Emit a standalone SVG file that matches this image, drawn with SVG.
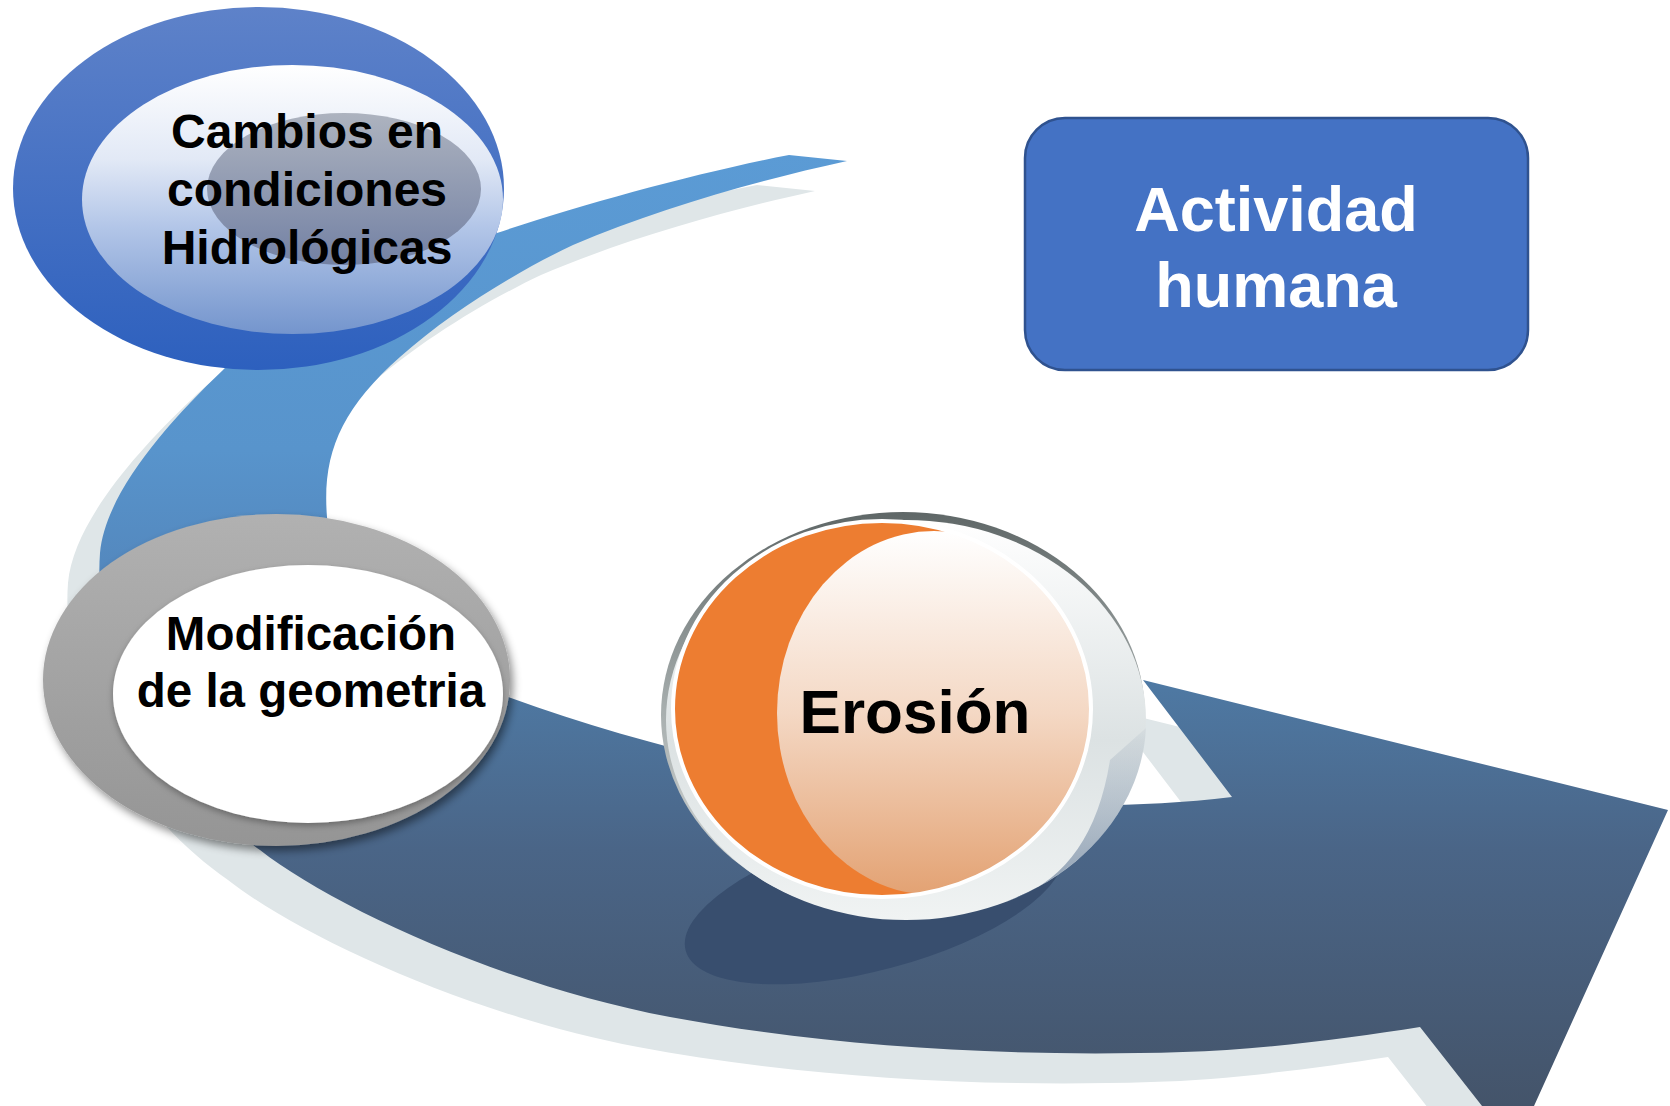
<svg xmlns="http://www.w3.org/2000/svg" width="1670" height="1106" viewBox="0 0 1670 1106">
<defs>
<style>
.t{font-family:"Liberation Sans",Arial,sans-serif;font-weight:bold;text-anchor:middle}
.dk{fill:#000}
.wt{fill:#fff}
</style>
<linearGradient id="arrowG" gradientUnits="userSpaceOnUse" x1="0" y1="150" x2="0" y2="1106">
<stop offset="0" stop-color="#5B9BD5"/>
<stop offset="0.314" stop-color="#5894CC"/>
<stop offset="0.429" stop-color="#5489BF"/>
<stop offset="0.565" stop-color="#4E78A2"/>
<stop offset="0.732" stop-color="#4A6587"/>
<stop offset="1" stop-color="#44546A"/>
</linearGradient>
<linearGradient id="ringBlue" x1="0" y1="0" x2="0" y2="1">
<stop offset="0" stop-color="#5E82C9"/>
<stop offset="1" stop-color="#2D60BE"/>
</linearGradient>
<linearGradient id="lightBlue" x1="0" y1="0" x2="0" y2="1">
<stop offset="0" stop-color="#FFFFFF"/>
<stop offset="0.35" stop-color="#E2E9F6"/>
<stop offset="0.6" stop-color="#B3C6E8"/>
<stop offset="1" stop-color="#7495CD"/>
</linearGradient>
<linearGradient id="grayIn" x1="0" y1="0" x2="0" y2="1">
<stop offset="0" stop-color="#ADB3BF"/>
<stop offset="1" stop-color="#7381A4"/>
</linearGradient>
<linearGradient id="ringGray" x1="0" y1="0" x2="0" y2="1">
<stop offset="0" stop-color="#B1B1B1"/>
<stop offset="1" stop-color="#959595"/>
</linearGradient>
<linearGradient id="rimG" x1="0" y1="0" x2="0" y2="1">
<stop offset="0" stop-color="#5F6767"/>
<stop offset="0.5" stop-color="#A9B0B0"/>
<stop offset="1" stop-color="#D8DCDC"/>
</linearGradient>
<linearGradient id="discG" x1="0" y1="0" x2="0" y2="1">
<stop offset="0" stop-color="#FFFFFF"/>
<stop offset="0.55" stop-color="#DCE2E3"/>
<stop offset="1" stop-color="#F0F3F3"/>
</linearGradient>
<linearGradient id="peachG" x1="0" y1="0" x2="0" y2="1">
<stop offset="0" stop-color="#FFFFFF"/>
<stop offset="0.5" stop-color="#F4D8C4"/>
<stop offset="1" stop-color="#E3A273"/>
</linearGradient>
<linearGradient id="tintG" x1="0" y1="0" x2="0" y2="1">
<stop offset="0" stop-color="#4A6587" stop-opacity="0.05"/>
<stop offset="1" stop-color="#4A6587" stop-opacity="0.6"/>
</linearGradient>
<clipPath id="orangeClip">
<ellipse cx="882" cy="709" rx="209" ry="188"/>
</clipPath>
<filter id="shadowA" x="-10%" y="-10%" width="130%" height="130%">
<feDropShadow dx="3" dy="5" stdDeviation="4" flood-color="#000" flood-opacity="0.45"/>
</filter>
<filter id="shadowB" x="-10%" y="-10%" width="120%" height="125%">
<feDropShadow dx="0" dy="3" stdDeviation="3" flood-color="#000" flood-opacity="0.3"/>
</filter>
<path id="arrowShape" d="M 789,155 C 700,172 580,205 497,233 C 380,280 270,320 223,370 C 165,425 105,495 100,553 C 92,660 160,780 260,850 C 330,905 500,985 670,1017 C 820,1045 1000,1058 1183,1052 C 1260,1050 1350,1038 1420,1027 L 1515,1148 L 1668,810 L 1143,680 L 1232,797 C 982,827 711,770 511,698 C 420,660 330,600 327,517 C 322,455 340,410 400,357 C 450,312 520,270 573,245 C 660,208 760,180 847,161 Z"/>
</defs>

<g id="connectors">
<use href="#arrowShape" transform="translate(-32,30)" fill="#DFE6E8"/>
<use href="#arrowShape" fill="url(#arrowG)"/>
</g>

<g id="node-cambios">
<ellipse cx="258.5" cy="188.5" rx="245.5" ry="181.5" fill="url(#ringBlue)"/>
<ellipse cx="292.5" cy="199.5" rx="210.5" ry="134.5" fill="url(#lightBlue)"/>
<ellipse cx="344" cy="189" rx="137" ry="76" fill="url(#grayIn)"/>
<text class="t dk" font-size="48" x="307" y="148">Cambios en</text>
<text class="t dk" font-size="48" x="307" y="206">condiciones</text>
<text class="t dk" font-size="48" x="307" y="264">Hidrológicas</text>
</g>

<g id="node-modificacion">
<ellipse cx="276.5" cy="680" rx="233.5" ry="166" fill="url(#ringGray)" filter="url(#shadowA)"/>
<ellipse cx="308" cy="694" rx="195" ry="129" fill="#FFFFFF" filter="url(#shadowB)"/>
<text class="t dk" font-size="47.5" x="311" y="650">Modificación</text>
<text class="t dk" font-size="47.5" x="311" y="707">de la geometria</text>
</g>

<g id="node-erosion">
<ellipse cx="874" cy="900" rx="195" ry="70" transform="rotate(-15 874 900)" fill="#384E6E"/>
<ellipse cx="903" cy="715" rx="242" ry="203" fill="url(#rimG)"/>
<ellipse cx="906" cy="720" rx="240" ry="200" fill="url(#discG)"/>
<path d="M 1146,728 A 240 200 0 0 1 1005,902 Q 1092,875 1110,760 Z" fill="url(#tintG)"/>
<ellipse cx="882" cy="709" rx="209" ry="188" fill="#ED7D31"/>
<ellipse cx="934" cy="713" rx="157" ry="182" fill="url(#peachG)" clip-path="url(#orangeClip)"/>
<ellipse cx="882" cy="709" rx="209" ry="188" fill="none" stroke="#FFFFFF" stroke-width="4"/>
<text class="t dk" font-size="62" x="915" y="733">Erosión</text>
</g>

<g id="node-actividad">
<rect x="1025" y="118" width="503" height="252" rx="40" ry="40" fill="#4472C4" stroke="#2F528F" stroke-width="2.5"/>
<text class="t wt" font-size="63" x="1276" y="231">Actividad</text>
<text class="t wt" font-size="63" x="1276" y="307">humana</text>
</g>
</svg>
